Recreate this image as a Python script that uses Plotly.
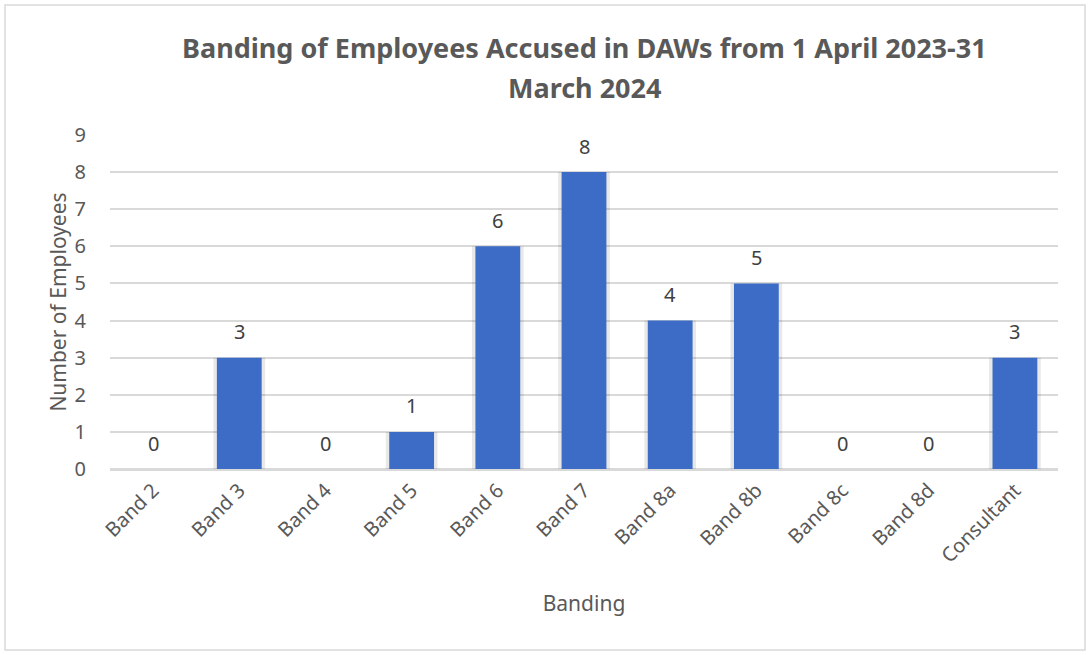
import plotly.graph_objects as go

categories = ["Band 2", "Band 3", "Band 4", "Band 5", "Band 6", "Band 7",
              "Band 8a", "Band 8b", "Band 8c", "Band 8d", "Consultant"]
values = [0, 3, 0, 1, 6, 8, 4, 5, 0, 0, 3]
y_ticks = [0, 1, 2, 3, 4, 5, 6, 7, 8, 9]
title_lines = ["Banding of Employees Accused in DAWs from 1 April 2023-31", "March 2024"]

FONT = "Noto Sans"
L, R, T, B = 110, 33, 135, 186
W, H = 1091, 655
PH = H - T - B
PW = W - L - R


def py(px):  # pixel row -> paper y
    return (H - B - px) / PH


def pxx(px):  # pixel column -> paper x
    return (px - L) / PW


fig = go.Figure()
# soft shadow behind the bars
fig.add_trace(go.Bar(x=categories, y=values, width=0.60,
                     marker=dict(color="rgba(0,0,0,0.09)", line=dict(width=0)),
                     hoverinfo="skip", showlegend=False))
fig.add_trace(go.Bar(x=categories, y=values, width=0.52,
                     marker=dict(color="#3D6CC6", line=dict(width=0)),
                     showlegend=False))

annotations = [dict(x=c, y=v, xref="x", yref="y", text=str(v), showarrow=False,
                    yanchor="middle", yshift=26,
                    font=dict(family=FONT, size=20, color="#404040"))
               for c, v in zip(categories, values)]
for line, ypix in zip(title_lines, [48, 87]):
    annotations.append(dict(x=0.5, y=py(ypix), xref="paper", yref="paper", xanchor="center",
                            yanchor="middle", text="<b>" + line + "</b>", showarrow=False,
                            font=dict(family=FONT, size=27, color="#595959")))

fig.update_layout(
    width=W, height=H,
    margin=dict(l=L, r=R, t=T, b=B),
    paper_bgcolor="white", plot_bgcolor="white",
    barmode="overlay",
    font=dict(family=FONT, color="#595959"),
    xaxis=dict(tickangle=-45, tickfont=dict(family=FONT, size=20, color="#595959"),
               title=dict(text="Banding", font=dict(family=FONT, size=21, color="#595959"), standoff=29),
               showline=True, linecolor="#D9D9D9", linewidth=1.5, ticks="", automargin=False),
    yaxis=dict(range=[0, 9], tickvals=y_ticks, dtick=1,
               tickfont=dict(family=FONT, size=20, color="#595959"),
               title=dict(text="Number of Employees", font=dict(family=FONT, size=21, color="#595959"), standoff=2),
               showgrid=True, gridcolor="#D9D9D9", gridwidth=1.5,
               zeroline=True, zerolinecolor="#D9D9D9", zerolinewidth=1.5, ticks="",
               ticklabelstandoff=23, automargin=False),
    annotations=annotations,
    shapes=[dict(type="rect", xref="paper", yref="paper",
                 x0=pxx(5), x1=pxx(1085), y0=py(650), y1=py(5),
                 line=dict(color="#D9D9D9", width=1.5), fillcolor="rgba(0,0,0,0)", layer="below")],
)

fig.write_html("out.html", config={"displayModeBar": False},
               post_script="document.body.style.margin='0';")
